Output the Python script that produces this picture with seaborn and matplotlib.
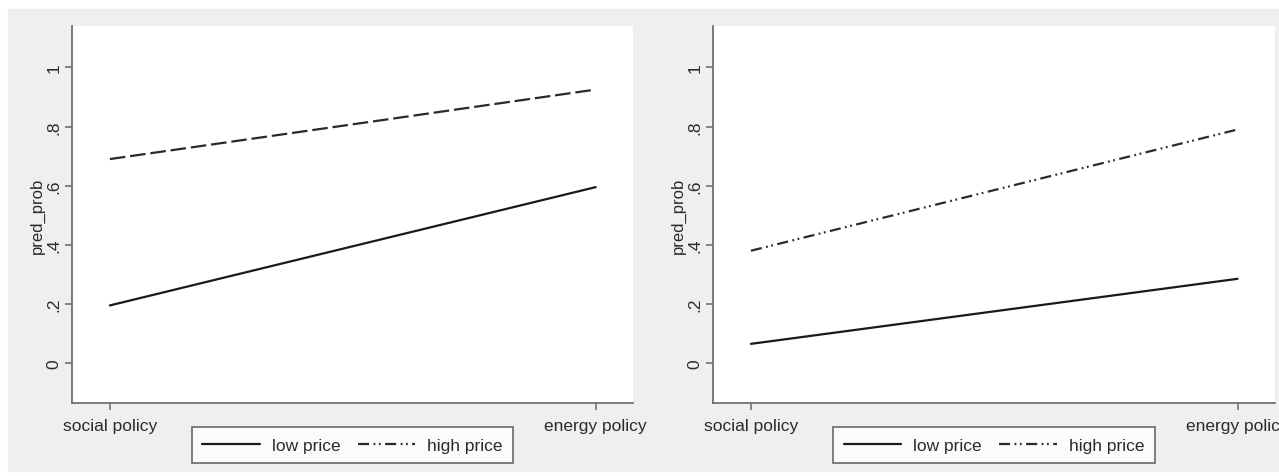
import pandas as pd
import matplotlib
matplotlib.use("Agg")
import matplotlib.pyplot as plt
import seaborn as sns
from matplotlib.lines import Line2D
from matplotlib.patches import Rectangle

# ---- data ----
policy_labels = ["social policy", "energy policy"]
price_levels = ["low price", "high price"]

left_low = [0.195, 0.595]
left_high = [0.690, 0.925]
right_low = [0.065, 0.285]
right_high = [0.380, 0.790]

y_ticks = [0, 0.2, 0.4, 0.6, 0.8, 1]
y_tick_labels = ["0", ".2", ".4", ".6", ".8", "1"]


def make_frame(low, high):
    rows = []
    for i, lab in enumerate(policy_labels):
        rows.append({"policy": i, "pred_prob": low[i], "price": "low price"})
        rows.append({"policy": i, "pred_prob": high[i], "price": "high price"})
    return pd.DataFrame(rows)


sns.set_theme(style="white")
plt.rcParams["font.family"] = ["Liberation Sans", "DejaVu Sans"]
plt.rcParams["font.size"] = 12

TXT = "#2b2b2b"
AXC = "#666666"
BG = "#efefef"

fig = plt.figure(figsize=(12.79, 4.77), dpi=100, facecolor="white")
W, H = 1279, 477

# stata-ish grey graph regions
fig.patches.append(Rectangle((8 / W, 1 - 472 / H), (650 - 8) / W, (472 - 10) / H,
                             transform=fig.transFigure, color=BG, zorder=-5))
fig.patches.append(Rectangle((651 / W, 1 - 472 / H), (W - 651) / W, (472 - 10) / H,
                             transform=fig.transFigure, color=BG, zorder=-5))

ax_l = fig.add_axes([72 / W, 1 - 404 / H, (633 - 72) / W, (404 - 27) / H])
ax_r = fig.add_axes([713 / W, 1 - 404 / H, (1275 - 713) / W, (404 - 27) / H])

panels = [
    (ax_l, make_frame(left_low, left_high), (7, 2.2)),
    (ax_r, make_frame(right_low, right_high), (5, 2, 0.8, 1.6, 0.8, 2)),
]

for ax, df, hi_dash in panels:
    ax.set_zorder(2)
    sns.lineplot(data=df, x="policy", y="pred_prob", hue="price", style="price",
                 hue_order=price_levels, style_order=price_levels,
                 palette={"low price": "#1a1a1a", "high price": "#2a2a2a"},
                 dashes={"low price": "", "high price": hi_dash},
                 linewidth=1.6, legend=False, ax=ax)
    ax.set_facecolor("white")
    ax.set_xlim(-0.078, 1.077)
    ax.set_ylim(-0.135, 1.14)
    ax.set_xticks([0, 1])
    ax.set_xticklabels(policy_labels, color=TXT)
    ax.set_yticks(y_ticks)
    ax.set_yticklabels(y_tick_labels, rotation=90, va="center", color=TXT)
    ax.set_xlabel("")
    ax.set_ylabel("pred_prob", color=TXT, labelpad=1)
    for s in ["top", "right"]:
        ax.spines[s].set_visible(False)
    for s in ["left", "bottom"]:
        ax.spines[s].set_color(AXC)
        ax.spines[s].set_linewidth(1.2)
    ax.tick_params(axis="both", which="both", direction="out", length=5, width=1.1,
                   color=AXC, left=True, bottom=True, labelsize=12.5)
    ax.tick_params(axis="y", pad=2.5)
    ax.tick_params(axis="x", pad=6)

    handles = [
        Line2D([], [], color="#1a1a1a", lw=1.6),
        Line2D([], [], color="#2a2a2a", lw=1.6, dashes=(5, 2, 0.8, 1.6, 0.8, 2)),
    ]
    leg = ax.legend(handles, price_levels, loc="upper center", bbox_to_anchor=(0.5, -0.064),
                    ncol=2, frameon=True, fancybox=False, handlelength=3.3,
                    handletextpad=0.7, columnspacing=1.0, borderpad=0.6,
                    borderaxespad=0, fontsize=12.5)
    leg.get_frame().set_edgecolor("#444444")
    leg.get_frame().set_linewidth(1.2)
    for t in leg.get_texts():
        t.set_color(TXT)

fig.savefig("out.png", dpi=100, facecolor="white")
